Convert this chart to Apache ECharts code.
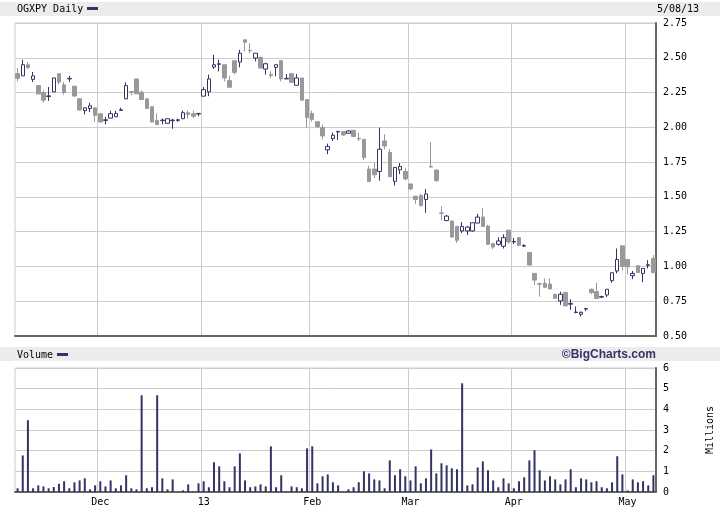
<!DOCTYPE html>
<html><head><meta charset="utf-8">
<script src="https://cdn.jsdelivr.net/npm/echarts/dist/echarts.min.js"></script>
<style>html,body{margin:0;padding:0;background:#fff}#c{width:720px;height:510px}</style>
</head><body><div id="c"></div>
<script>
const dates = [
'2012-11-08','2012-11-09','2012-11-12','2012-11-13','2012-11-14','2012-11-15','2012-11-16','2012-11-19','2012-11-20','2012-11-21','2012-11-23','2012-11-26','2012-11-27','2012-11-28','2012-11-29','2012-11-30',
'2012-12-03','2012-12-04','2012-12-05','2012-12-06','2012-12-07','2012-12-10','2012-12-11','2012-12-12','2012-12-13','2012-12-14','2012-12-17','2012-12-18','2012-12-19','2012-12-20','2012-12-21','2012-12-24','2012-12-26','2012-12-27','2012-12-28','2012-12-31',
'2013-01-02','2013-01-03','2013-01-04','2013-01-07','2013-01-08','2013-01-09','2013-01-10','2013-01-11','2013-01-14','2013-01-15','2013-01-16','2013-01-17','2013-01-18','2013-01-22','2013-01-23','2013-01-24','2013-01-25','2013-01-28','2013-01-29','2013-01-30','2013-01-31',
'2013-02-01','2013-02-04','2013-02-05','2013-02-06','2013-02-07','2013-02-08','2013-02-11','2013-02-12','2013-02-13','2013-02-14','2013-02-15','2013-02-19','2013-02-20','2013-02-21','2013-02-22','2013-02-25','2013-02-26','2013-02-27','2013-02-28',
'2013-03-01','2013-03-04','2013-03-05','2013-03-06','2013-03-07','2013-03-08','2013-03-11','2013-03-12','2013-03-13','2013-03-14','2013-03-15','2013-03-18','2013-03-19','2013-03-20','2013-03-21','2013-03-22','2013-03-25','2013-03-26','2013-03-27','2013-03-28',
'2013-04-01','2013-04-02','2013-04-03','2013-04-04','2013-04-05','2013-04-08','2013-04-09','2013-04-10','2013-04-11','2013-04-12','2013-04-15','2013-04-16','2013-04-17','2013-04-18','2013-04-19','2013-04-22','2013-04-23','2013-04-24','2013-04-25','2013-04-26','2013-04-29','2013-04-30',
'2013-05-01','2013-05-02','2013-05-03','2013-05-06','2013-05-07','2013-05-08'];

const opens = [
2.386,2.37,2.45,2.345,2.30,2.25,2.222,2.255,2.386,2.305,2.348,2.295,2.205,2.12,2.135,2.14,
2.098,2.05,2.066,2.076,2.122,2.205,2.257,2.348,2.252,2.205,2.148,2.05,2.048,2.029,2.048,2.05,2.062,2.105,2.098,2.096,
2.224,2.255,2.434,2.453,2.45,2.336,2.479,2.469,2.629,2.554,2.498,2.502,2.419,2.379,2.431,2.479,2.348,2.386,2.302,2.355,2.20,
2.10,2.04,1.998,1.838,1.919,1.967,1.969,1.957,1.979,1.921,1.914,1.70,1.70,1.683,1.902,1.819,1.612,1.695,1.683,
1.593,1.505,1.51,1.481,1.719,1.693,1.385,1.33,1.326,1.288,1.255,1.255,1.255,1.312,1.355,1.29,1.164,1.159,1.145,1.26,
1.176,1.207,1.146,1.10,0.95,0.876,0.879,0.874,0.80,0.752,0.814,0.729,0.669,0.657,0.693,0.836,0.819,0.779,0.795,0.898,0.967,1.148,
1.05,0.933,1.005,0.95,1.008,1.057];
const closes = [
2.352,2.45,2.43,2.37,2.24,2.195,2.226,2.355,2.325,2.25,2.352,2.225,2.125,2.14,2.155,2.086,
2.038,2.054,2.098,2.10,2.126,2.30,2.253,2.241,2.20,2.136,2.038,2.021,2.052,2.062,2.052,2.054,2.105,2.092,2.08,2.10,
2.271,2.348,2.45,2.457,2.355,2.288,2.395,2.533,2.612,2.55,2.533,2.426,2.457,2.372,2.45,2.348,2.352,2.324,2.355,2.195,2.07,
2.057,2.005,1.938,1.862,1.943,1.971,1.945,1.974,1.934,1.917,1.783,1.61,1.659,1.843,1.866,1.645,1.712,1.719,1.629,
1.557,1.481,1.438,1.521,1.714,1.617,1.381,1.362,1.212,1.188,1.288,1.283,1.314,1.355,1.288,1.159,1.14,1.183,1.207,1.176,
1.18,1.152,1.15,1.01,0.902,0.872,0.85,0.838,0.771,0.80,0.717,0.733,0.672,0.671,0.697,0.812,0.769,0.783,0.836,0.955,1.05,1.0,
0.998,0.95,0.957,0.986,1.012,0.955];
const lows = [
2.33,2.37,2.42,2.326,2.24,2.176,2.19,2.255,2.307,2.236,2.326,2.22,2.12,2.093,2.11,2.038,
2.038,2.021,2.066,2.076,2.119,2.205,2.23,2.241,2.20,2.136,2.038,2.015,2.021,2.029,1.99,2.04,2.062,2.062,2.065,2.08,
2.224,2.224,2.419,2.402,2.33,2.288,2.379,2.431,2.545,2.533,2.474,2.426,2.379,2.355,2.367,2.33,2.348,2.32,2.302,2.195,1.993,
2.04,1.993,1.914,1.807,1.902,1.909,1.94,1.957,1.93,1.902,1.764,1.61,1.636,1.617,1.843,1.645,1.581,1.664,1.62,
1.55,1.45,1.43,1.386,1.714,1.607,1.33,1.325,1.205,1.169,1.24,1.226,1.25,1.31,1.285,1.155,1.124,1.15,1.129,1.164,
1.16,1.15,1.14,1.01,0.867,0.783,0.85,0.838,0.77,0.724,0.717,0.688,0.664,0.64,0.68,0.80,0.769,0.775,0.78,0.883,0.95,0.97,
0.943,0.909,0.957,0.886,0.986,0.955];
const highs = [
2.426,2.486,2.469,2.398,2.30,2.266,2.29,2.355,2.386,2.326,2.371,2.30,2.21,2.141,2.176,2.141,
2.098,2.076,2.119,2.119,2.141,2.324,2.257,2.348,2.266,2.205,2.15,2.10,2.064,2.062,2.062,2.062,2.121,2.121,2.12,2.10,
2.29,2.379,2.521,2.486,2.45,2.371,2.479,2.557,2.629,2.605,2.533,2.51,2.464,2.402,2.45,2.479,2.383,2.386,2.383,2.355,2.20,
2.12,2.041,2.021,1.883,1.962,1.971,1.969,1.98,1.98,1.962,1.914,1.724,1.748,1.998,1.95,1.843,1.712,1.743,1.71,
1.593,1.505,1.52,1.557,1.895,1.693,1.433,1.37,1.33,1.29,1.319,1.29,1.314,1.379,1.419,1.30,1.164,1.21,1.231,1.265,
1.205,1.21,1.16,1.10,0.95,0.883,0.914,0.914,0.80,0.819,0.814,0.764,0.712,0.675,0.70,0.84,0.883,0.79,0.836,0.955,1.129,1.148,
1.05,0.967,1.005,0.986,1.045,1.081];
const volumes = [
0.18,1.77,3.47,0.18,0.32,0.27,0.18,0.24,0.40,0.52,0.18,0.47,0.56,0.66,0.13,0.32,
0.52,0.27,0.56,0.18,0.32,0.81,0.18,0.13,4.68,0.18,0.23,4.68,0.66,0.13,0.61,0.02,0.08,0.37,0.03,0.42,
0.52,0.23,1.44,1.24,0.52,0.23,1.24,1.87,0.56,0.23,0.27,0.37,0.27,2.21,0.23,0.81,0.03,0.27,0.23,0.18,2.11,
2.21,0.42,0.76,0.85,0.47,0.32,0.02,0.13,0.23,0.47,1.0,0.9,0.61,0.56,0.18,1.53,0.81,1.10,0.76,
0.56,1.24,0.42,0.66,2.06,0.9,1.39,1.29,1.15,1.10,5.26,0.32,0.37,1.19,1.48,1.05,0.56,0.23,0.66,0.42,
0.18,0.52,0.71,1.53,2.02,1.05,0.56,0.76,0.61,0.37,0.61,1.10,0.23,0.66,0.61,0.47,0.52,0.23,0.18,0.47,1.73,0.85,
0.08,0.61,0.47,0.52,0.32,0.81];
const monthNames = ['', '13', 'Feb', 'Mar', 'Apr', 'May', 'Jun', 'Jul', 'Aug', 'Sep', 'Oct', 'Nov', 'Dec'];
const lastDateLabel = '5/08/13';

const NAVY = '#333366', GRAY = '#999999', GRID = '#cccccc', AXIS = '#666666';
const MONO = '"DejaVu Sans Mono", monospace';
const ohlc = dates.map((d, i) => [opens[i], closes[i], lows[i], highs[i]]);
const isMonthStart = i => i > 0 && dates[i].slice(5, 7) !== dates[i - 1].slice(5, 7);

function xAx(gridIndex, showLabels) {
  return {
    type: 'category', gridIndex, data: dates, boundaryGap: true,
    axisLine: { show: true, lineStyle: { color: AXIS, width: 2 } },
    axisTick: { show: false },
    axisLabel: {
      show: showLabels, interval: (i) => isMonthStart(i), margin: 5,
      fontFamily: MONO, fontSize: 10, color: '#000',
      formatter: (v) => monthNames[parseInt(v.slice(5, 7), 10)]
    },
    splitLine: { show: true, interval: (i) => isMonthStart(i), lineStyle: { color: GRID, width: 1 } }
  };
}
function yAx(gridIndex, min, max, interval, fmt) {
  return {
    type: 'value', gridIndex, position: 'right', min, max, interval, scale: true,
    axisLine: { show: true, lineStyle: { color: AXIS, width: 2 } },
    axisTick: { show: false },
    axisLabel: { margin: 7, fontFamily: MONO, fontSize: 10, color: '#000', formatter: fmt },
    splitLine: { show: true, lineStyle: { color: GRID, width: 1 } }
  };
}

const chart = echarts.init(document.getElementById('c'), null, { renderer: 'canvas' });
chart.setOption({
  animation: false,
  backgroundColor: '#fff',
  grid: [
    { left: 15, right: 64, top: 23, height: 313, show: true, borderColor: GRID, borderWidth: 1, backgroundColor: 'transparent' },
    { left: 15, right: 64, top: 368, height: 124, show: true, borderColor: GRID, borderWidth: 1, backgroundColor: 'transparent' }
  ],
  xAxis: [xAx(0, false), xAx(1, true)],
  yAxis: [
    yAx(0, 0.5, 2.75, 0.25, v => v.toFixed(2)),
    yAx(1, 0, 6, 1, v => String(v))
  ],
  series: [
    {
      type: 'candlestick', xAxisIndex: 0, yAxisIndex: 0, data: ohlc, barWidth: 4,
      itemStyle: { color: '#ffffff', color0: GRAY, borderColor: NAVY, borderColor0: GRAY, borderWidth: 1 }
    },
    {
      type: 'bar', xAxisIndex: 1, yAxisIndex: 1, data: volumes, barWidth: 2,
      itemStyle: { color: NAVY }
    }
  ],
  graphic: [
    { type: 'rect', shape: { x: 0, y: 2, width: 720, height: 14 }, style: { fill: '#ececec' } },
    { type: 'text', x: 17, y: 9, style: { text: 'OGXPY Daily', font: '10px ' + MONO, fill: '#000', align: 'left', verticalAlign: 'middle' } },
    { type: 'rect', shape: { x: 87, y: 7, width: 11, height: 3 }, style: { fill: NAVY } },
    { type: 'text', x: 657, y: 9, style: { text: lastDateLabel, font: '10px ' + MONO, fill: '#000', align: 'left', verticalAlign: 'middle' } },
    { type: 'rect', shape: { x: 0, y: 347, width: 720, height: 14 }, style: { fill: '#ececec' } },
    { type: 'text', x: 17, y: 355, style: { text: 'Volume', font: '10px ' + MONO, fill: '#000', align: 'left', verticalAlign: 'middle' } },
    { type: 'rect', shape: { x: 57, y: 353, width: 11, height: 3 }, style: { fill: NAVY } },
    { type: 'text', x: 656, y: 354.5, style: { text: '©BigCharts.com', font: 'bold 12px "Liberation Sans", Arial, sans-serif', fill: NAVY, align: 'right', verticalAlign: 'middle' } },
    { type: 'text', x: 710, y: 430, rotation: Math.PI / 2, style: { text: 'Millions', font: '10px ' + MONO, fill: '#000', align: 'center', verticalAlign: 'middle' } }
  ]
});
</script></body></html>
